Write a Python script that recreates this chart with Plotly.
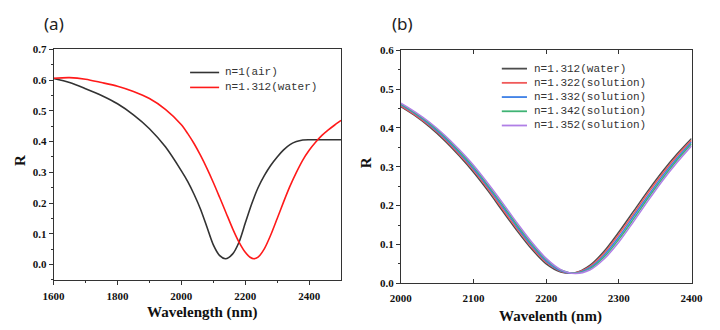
import plotly.graph_objects as go

# ---------------- Panel (a) data ----------------
wl_a_air = [1600, 1650, 1700, 1750, 1800, 1850, 1900, 1950, 2000, 2020, 2040, 2060, 2080,
            2100, 2120, 2138, 2160, 2180, 2200, 2220, 2240, 2260, 2280, 2300, 2320, 2340,
            2360, 2380, 2400, 2450, 2500]
R_a_air = [0.605, 0.592, 0.572, 0.550, 0.523, 0.487, 0.442, 0.383, 0.305, 0.270, 0.228, 0.180,
           0.122, 0.064, 0.029, 0.019, 0.034, 0.072, 0.135, 0.197, 0.250, 0.290, 0.323, 0.350,
           0.373, 0.390, 0.400, 0.405, 0.406, 0.406, 0.406]

wl_a_water = [1600, 1650, 1700, 1750, 1800, 1850, 1900, 1950, 2000, 2020, 2040, 2060, 2080,
              2100, 2120, 2140, 2160, 2180, 2200, 2215, 2227, 2240, 2260, 2280, 2300, 2320,
              2340, 2360, 2380, 2400, 2420, 2440, 2460, 2480, 2500]
R_a_water = [0.606, 0.608, 0.603, 0.592, 0.580, 0.563, 0.540, 0.505, 0.455, 0.426, 0.393, 0.355,
             0.313, 0.267, 0.218, 0.168, 0.118, 0.074, 0.040, 0.024, 0.019, 0.024, 0.052, 0.097,
             0.150, 0.204, 0.255, 0.300, 0.340, 0.372, 0.398, 0.420, 0.438, 0.454, 0.469]

labels_a = ["n=1(air)", "n=1.312(water)"]

# ---------------- Panel (b) data ----------------
wl_b = [2000, 2020, 2040, 2060, 2080, 2100, 2120, 2140, 2160, 2180, 2200, 2220, 2240, 2260,
        2280, 2300, 2320, 2340, 2360, 2380, 2400]
R_b_1312 = [0.455, 0.431, 0.402, 0.368, 0.329, 0.286, 0.238, 0.186, 0.135, 0.088, 0.050, 0.029,
            0.027, 0.046, 0.083, 0.132, 0.185, 0.238, 0.288, 0.333, 0.373]
R_b_1322 = [0.457, 0.433, 0.405, 0.372, 0.333, 0.291, 0.243, 0.191, 0.140, 0.093, 0.054, 0.031,
            0.027, 0.043, 0.078, 0.126, 0.178, 0.232, 0.282, 0.328, 0.368]
R_b_1332 = [0.460, 0.436, 0.408, 0.375, 0.337, 0.295, 0.248, 0.197, 0.145, 0.097, 0.057, 0.032,
            0.026, 0.040, 0.073, 0.119, 0.172, 0.225, 0.276, 0.322, 0.364]
R_b_1342 = [0.462, 0.438, 0.411, 0.379, 0.341, 0.300, 0.252, 0.202, 0.150, 0.102, 0.061, 0.034,
            0.026, 0.037, 0.068, 0.113, 0.165, 0.219, 0.270, 0.317, 0.359]
R_b_1352 = [0.464, 0.441, 0.414, 0.382, 0.345, 0.304, 0.257, 0.207, 0.155, 0.106, 0.064, 0.035,
            0.025, 0.034, 0.063, 0.106, 0.158, 0.212, 0.264, 0.311, 0.354]
labels_b = ["n=1.312(water)", "n=1.322(solution)", "n=1.332(solution)",
            "n=1.342(solution)", "n=1.352(solution)"]

colors_a = ["#333333", "#ff1a1a"]
colors_b = ["#4d4d4d", "#f05a5a", "#3d7fe6", "#3fb374", "#b07fe6"]

fig = go.Figure()

for wl, R, name, col in zip([wl_a_air, wl_a_water], [R_a_air, R_a_water], labels_a, colors_a):
    fig.add_trace(go.Scatter(x=wl, y=R, mode="lines", name=name, showlegend=False,
                             line=dict(color=col, width=1.6, shape="spline", smoothing=0.8),
                             xaxis="x", yaxis="y"))

for R, name, col in zip([R_b_1312, R_b_1322, R_b_1332, R_b_1342, R_b_1352], labels_b, colors_b):
    fig.add_trace(go.Scatter(x=wl_b, y=R, mode="lines", name=name, showlegend=False,
                             line=dict(color=col, width=1.5, shape="spline", smoothing=0.8),
                             xaxis="x2", yaxis="y2"))

W, H = 720, 330
tickfont = dict(family="Liberation Serif", size=11, color="#111111", weight="bold")
axcol = "#333333"

common = dict(showgrid=False, zeroline=False, showline=True, linecolor=axcol, linewidth=1,
              tickfont=tickfont, tickcolor=axcol, ticklen=4)

fig.update_layout(
    width=W, height=H,
    margin=dict(l=0, r=0, t=0, b=0),
    paper_bgcolor="white", plot_bgcolor="white",
    showlegend=False,
    xaxis=dict(domain=[44 / W, 341 / W], anchor="y", range=[1600, 2500],
               tickvals=[1600, 1800, 2000, 2200, 2400], ticks="outside", mirror=True,
               ticklabelstandoff=2,
               minor=dict(tickvals=[1700, 1900, 2100, 2300], ticks="outside", ticklen=2,
                          tickcolor=axcol),
               **common),
    yaxis=dict(domain=[1 - 284.3 / H, 1 - 45 / H], anchor="x", range=[-0.05, 0.7],
               tickvals=[0.0, 0.1, 0.2, 0.3, 0.4, 0.5, 0.6, 0.7], tickformat=".1f",
               ticks="outside", mirror=True,
               minor=dict(dtick=0.05, ticks="outside", ticklen=2, tickcolor=axcol),
               **common),
    xaxis2=dict(domain=[402.7 / W, 703 / W], anchor="y2", range=[2000, 2400],
                tickvals=[2000, 2100, 2200, 2300, 2400], ticks="inside", mirror="ticks",
                ticklabelstandoff=5,
                **common),
    yaxis2=dict(domain=[1 - 287.7 / H, 1 - 46 / H], anchor="x2", range=[0, 0.6],
                tickvals=[0.0, 0.1, 0.2, 0.3, 0.4, 0.5, 0.6], tickformat=".1f",
                ticks="outside", mirror=True,
                minor=dict(dtick=0.05, ticks="outside", ticklen=2, tickcolor=axcol),
                **common),
)

# ---- legends (drawn in paper space, compact row spacing as in the reference) ----
legfont = dict(family="Liberation Mono", size=11, color="#333333")


def add_legend(labels, colors, x0, x1, xt, y0, dy, width):
    for i, (lab, col) in enumerate(zip(labels, colors)):
        yy = 1 - (y0 + i * dy) / H
        fig.add_shape(type="line", xref="paper", yref="paper", x0=x0 / W, x1=x1 / W,
                      y0=yy, y1=yy, line=dict(color=col, width=width))
        fig.add_annotation(xref="paper", yref="paper", x=xt / W, y=yy, text=lab,
                           showarrow=False, xanchor="left", yanchor="middle", font=legfont)


add_legend(labels_a, colors_a, 185, 215, 219, 69, 15.5, 1.6)
add_legend(labels_b, colors_b, 507, 533, 538, 65, 14.75, 1.8)

titlefont = dict(family="Liberation Serif", size=15, color="#111111", weight="bold")
panelfont = dict(family="Noto Sans", size=17, color="#222222")
ann = [
    dict(text="(a)", x=44 / W, y=1 - 18 / H, font=panelfont),
    dict(text="(b)", x=404 / W, y=1 - 18 / H, font=panelfont),
    dict(text="Wavelength (nm)", x=197 / W, y=1 - 318 / H, font=titlefont),
    dict(text="Wavelenth (nm)", x=557 / W, y=1 - 322 / H, font=titlefont),
    dict(text="R", x=9 / W, y=1 - 160 / H, font=titlefont, textangle=-90),
    dict(text="R", x=367 / W, y=1 - 163 / H, font=titlefont, textangle=-90),
]
for a in ann:
    fig.add_annotation(xref="paper", yref="paper", showarrow=False,
                       xanchor="center", yanchor="middle", **a)

fig.write_html("out.html")
